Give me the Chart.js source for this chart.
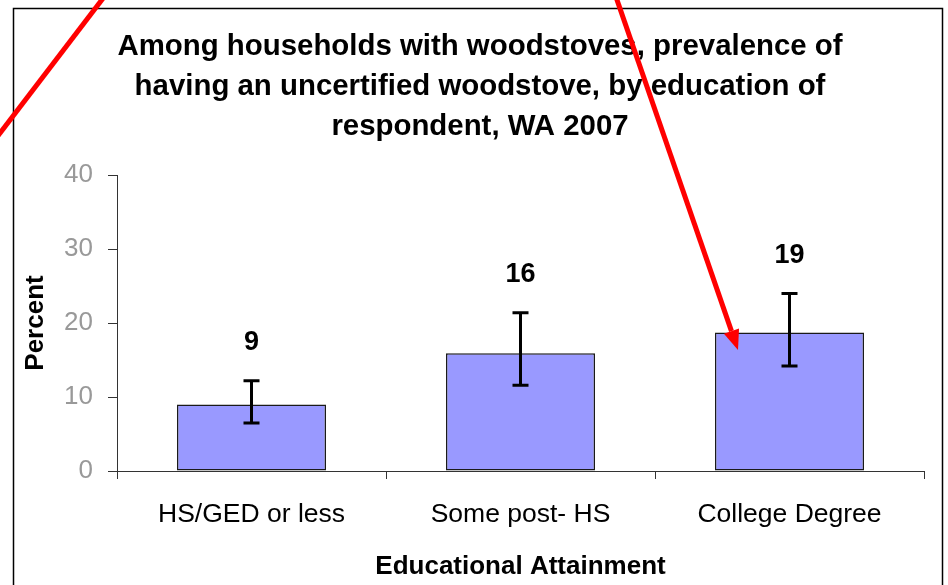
<!DOCTYPE html>
<html><head><meta charset="utf-8">
<script src="https://cdn.jsdelivr.net/npm/chart.js@4"></script>
<style>html,body{margin:0;padding:0;background:#fff}#wrap{width:948px;height:585px;position:relative}</style>
</head><body><div id="wrap"><canvas id="c" width="948" height="585"></canvas></div>
<script>
const categories = ["HS/GED or less", "Some post- HS", "College Degree"];
const percentValues = [9.0, 15.9, 18.7];
const ciLower = [6.5, 11.6, 14.2];
const ciUpper = [12.2, 21.4, 24.0];
const valueLabels = ["9", "16", "19"];
const yTicks = [0, 10, 20, 30, 40];
const titleLines = [
  "Among households with woodstoves, prevalence of",
  "having an uncertified woodstove, by education of",
  "respondent, WA 2007"
];
const FONT = "'Liberation Sans', Arial, sans-serif";

const decorPlugin = {
  id: 'decor',
  beforeDraw(chart) {
    const ctx = chart.ctx;
    ctx.save();
    ctx.fillStyle = '#fff';
    ctx.fillRect(0, 0, chart.width, chart.height);
    ctx.strokeStyle = '#000';
    ctx.lineWidth = 1.5;
    ctx.strokeRect(13.5, 8.5, 929, 600);
    ctx.restore();
  },
  afterDatasetsDraw(chart) {
    const ctx = chart.ctx;
    const meta = chart.getDatasetMeta(0);
    const ys = chart.scales.y;
    ctx.save();
    ctx.strokeStyle = '#000';
    ctx.lineWidth = 3;
    meta.data.forEach((bar, i) => {
      const x = bar.x;
      const yl = ys.getPixelForValue(ciLower[i]);
      const yh = ys.getPixelForValue(ciUpper[i]);
      ctx.beginPath();
      ctx.moveTo(x, yl); ctx.lineTo(x, yh);
      ctx.moveTo(x - 8, yl); ctx.lineTo(x + 8, yl);
      ctx.moveTo(x - 8, yh); ctx.lineTo(x + 8, yh);
      ctx.stroke();
      ctx.fillStyle = '#000';
      ctx.font = "bold 27px " + FONT;
      ctx.textAlign = 'center';
      ctx.textBaseline = 'middle';
      ctx.fillText(valueLabels[i], x, yh - 38);
    });
    ctx.restore();
  },
  afterDraw(chart) {
    const ctx = chart.ctx;
    ctx.save();
    ctx.strokeStyle = '#ff0000';
    ctx.fillStyle = '#ff0000';
    ctx.lineWidth = 5;
    ctx.lineCap = 'butt';
    ctx.beginPath();
    ctx.moveTo(104, -3);
    ctx.lineTo(-3, 137);
    ctx.stroke();
    const x0 = 616, y0 = -3, x1 = 738, y1 = 350;
    const ang = Math.atan2(y1 - y0, x1 - x0);
    const hl = 20, hw = 8;
    const bx = x1 - hl * Math.cos(ang), by = y1 - hl * Math.sin(ang);
    ctx.beginPath();
    ctx.moveTo(x0, y0);
    ctx.lineTo(bx, by);
    ctx.stroke();
    ctx.beginPath();
    ctx.moveTo(x1, y1);
    ctx.lineTo(bx + hw * Math.sin(ang), by - hw * Math.cos(ang));
    ctx.lineTo(bx - hw * Math.sin(ang), by + hw * Math.cos(ang));
    ctx.closePath();
    ctx.fill();
    ctx.restore();
  }
};

new Chart(document.getElementById('c'), {
  type: 'bar',
  data: {
    labels: categories,
    datasets: [{
      data: percentValues,
      backgroundColor: '#9999ff',
      borderColor: '#1a1a1a',
      borderWidth: 1.5,
      borderSkipped: false,
      categoryPercentage: 1.0,
      barPercentage: 0.554
    }]
  },
  options: {
    responsive: false,
    animation: false,
    devicePixelRatio: 1,
    layout: { padding: { left: 12, right: 0, top: 0, bottom: 0 } },
    plugins: {
      legend: { display: false },
      tooltip: { enabled: false },
      title: {
        display: true,
        text: titleLines,
        color: '#000',
        font: { family: FONT, size: 29.4, weight: 'bold', lineHeight: '40px' },
        padding: { top: 27, bottom: 28 }
      }
    },
    scales: {
      x: {
        afterFit(s) { s.height = 114; },
        grid: { display: true, offset: true, drawOnChartArea: false, drawTicks: true, tickLength: 8, color: '#333', lineWidth: 1 },
        border: { display: true, color: '#333', width: 1 },
        ticks: { color: '#000', padding: 20, font: { family: FONT, size: 26.5 } },
        title: {
          display: true, text: 'Educational Attainment', color: '#000',
          font: { family: FONT, size: 26, weight: 'bold' },
          padding: { top: 0, bottom: 3 }
        }
      },
      y: {
        min: 0, max: 40,
        afterFit(s) { s.width = 105; },
        afterBuildTicks(s) { s.ticks = yTicks.map(v => ({ value: v })); },
        grid: { display: true, drawOnChartArea: false, drawTicks: true, tickLength: 9, color: '#333', lineWidth: 1 },
        border: { display: true, color: '#333', width: 1 },
        ticks: { color: '#999', padding: 15, font: { family: FONT, size: 26 } },
        title: {
          display: true, text: 'Percent', color: '#000',
          font: { family: FONT, size: 26, weight: 'bold' },
          padding: { top: 8, bottom: 0 }
        }
      },
      spacer: {
        type: 'linear',
        position: 'right',
        display: true,
        afterFit(s) { s.width = 24; },
        grid: { display: false },
        border: { display: false },
        ticks: { display: false },
        title: { display: false }
      }
    }
  },
  plugins: [decorPlugin]
});
</script>
</body></html>
